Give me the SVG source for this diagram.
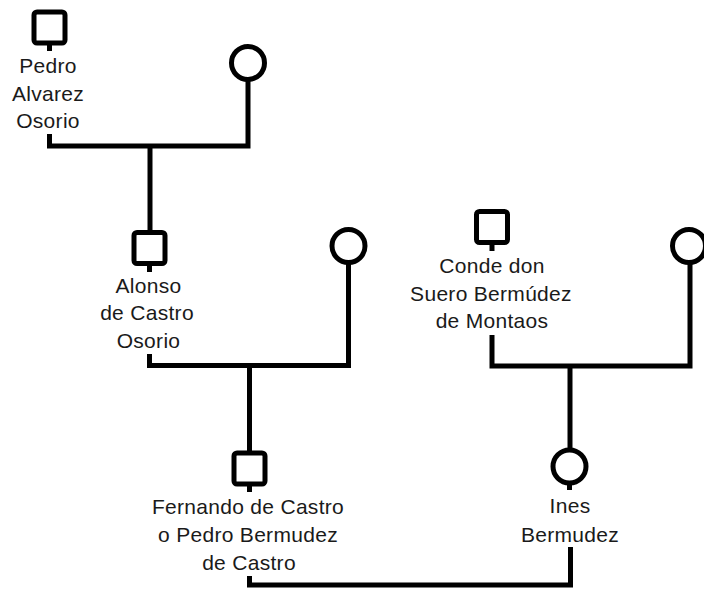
<svg xmlns="http://www.w3.org/2000/svg" width="704" height="589" viewBox="0 0 704 589">
<style>
.bg{fill:#fff}
.m{fill:none;stroke:#000;stroke-width:5}
.c{fill:none;stroke:#000;stroke-width:5;stroke-linecap:butt;stroke-linejoin:miter}
text{font-family:"Liberation Sans",Arial,sans-serif;font-size:21px;fill:#1a1a1a;text-anchor:middle;letter-spacing:0.3px}
</style>
<rect class="bg" x="0" y="0" width="704" height="589"/>
<g id="connectors">
<path class="c" d="M49.5,45 V51"/>
<path class="c" d="M49.5,134 V146 H248 V80"/>
<path class="c" d="M150,146 V232"/>
<path class="c" d="M149.5,266 V272"/>
<path class="c" d="M149.5,354 V365.5 H348.5 V263"/>
<path class="c" d="M249.5,365.5 V452"/>
<path class="c" d="M249.5,486 V492"/>
<path class="c" d="M492,245 V251"/>
<path class="c" d="M492,335 V366 H690 V263"/>
<path class="c" d="M570,366 V450"/>
<path class="c" d="M569.5,483 V490"/>
<path class="c" d="M249.5,576 V585 H570.5 V547"/>
</g>
<g id="n1">
<rect class="m" x="34" y="12" width="31" height="31" rx="3"/>
<text x="48" y="73">Pedro</text>
<text x="48" y="101">Alvarez</text>
<text x="48" y="128">Osorio</text>
</g>
<g id="n2">
<circle class="m" cx="248" cy="63" r="16.5"/>
</g>
<g id="n3">
<rect class="m" x="134" y="232.5" width="31" height="31" rx="3"/>
<text x="148.5" y="293">Alonso</text>
<text x="147" y="320">de Castro</text>
<text x="148.5" y="348">Osorio</text>
</g>
<g id="n4">
<circle class="m" cx="348.5" cy="246" r="16.5"/>
</g>
<g id="n5">
<rect class="m" x="476.5" y="211.5" width="31" height="31" rx="3"/>
<text x="492" y="273">Conde don</text>
<text x="491" y="301">Suero Bermúdez</text>
<text x="492" y="328">de Montaos</text>
</g>
<g id="n6">
<circle class="m" cx="689" cy="246" r="16.5"/>
</g>
<g id="n7">
<rect class="m" x="234" y="453" width="31" height="31" rx="3"/>
<text x="248" y="514">Fernando de Castro</text>
<text x="248" y="542">o Pedro Bermudez</text>
<text x="249" y="570">de Castro</text>
</g>
<g id="n8">
<circle class="m" cx="569.5" cy="466.5" r="16.5"/>
<text x="570" y="513">Ines</text>
<text x="570" y="542">Bermudez</text>
</g>
</svg>
